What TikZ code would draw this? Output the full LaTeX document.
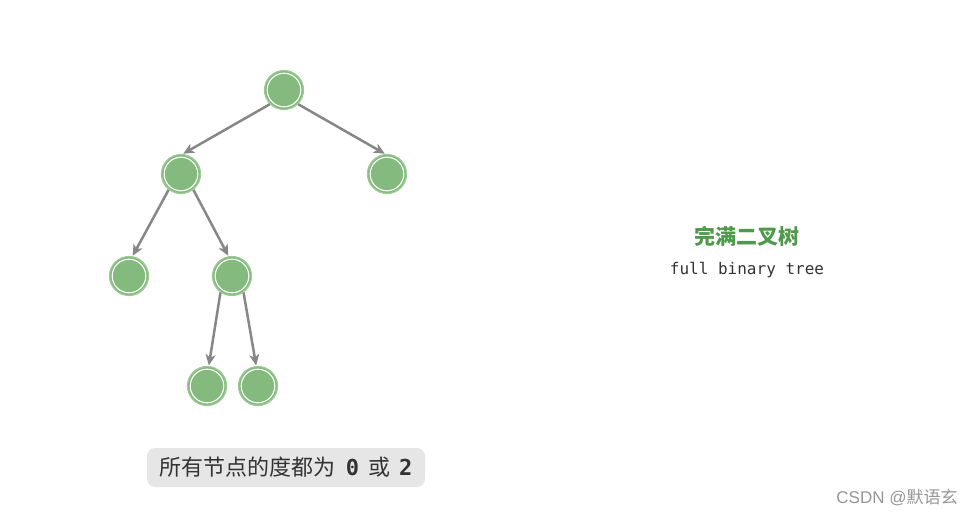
\documentclass[tikz,border=0pt]{standalone}
\usepackage{fontspec}
\setmainfont{Liberation Sans}
\newfontfamily\cjk{Noto Sans CJK SC}
\newfontfamily\monof{DejaVu Sans Mono}
\usetikzlibrary{arrows.meta}
\definecolor{nodefill}{HTML}{84BA7E}
\definecolor{noderim}{HTML}{9ACC93}
\definecolor{edgegray}{HTML}{878787}
\definecolor{titlegreen}{HTML}{4E9A4A}
\definecolor{boxgray}{HTML}{E6E6E6}
\begin{document}
\begin{tikzpicture}[x=1pt,y=-1pt,
  treenode/.style={circle,minimum size=39pt,inner sep=0pt,fill=nodefill,draw=noderim,line width=1.2pt,
    path picture={\draw[white,line width=1.1pt] (path picture bounding box.center) circle[radius=16.8pt];}},
  edge/.style={draw=edgegray,line width=2.5pt,-{Stealth[length=11pt,width=10pt,inset=3pt]},shorten >=0.5pt}]
\useasboundingbox (0,0) rectangle (975,515);
\node[treenode] (r) at (284,90) {};
\node[treenode] (a) at (181,174) {};
\node[treenode] (b) at (387,174) {};
\node[treenode] (c) at (129,276) {};
\node[treenode] (d) at (232,276) {};
\node[treenode] (e) at (207,386) {};
\node[treenode] (f) at (258,386) {};
\draw[edge] (r.-135) -- (a.85);
\draw[edge] (r.-45) -- (b.95);
\draw[edge] (a.-128) -- (c.80);
\draw[edge] (a.-52) -- (d.100);
\draw[edge] (d.-125) -- (e.85);
\draw[edge] (d.-55) -- (f.95);
\node[fill=boxgray,rounded corners=8pt,minimum width=278pt,minimum height=39pt,inner sep=0pt] (lbl) at (286,467.5)
  {\fontsize{22pt}{26pt}\selectfont\color[HTML]{333333}\cjk 所有节点的度都为\hspace{10pt}{\monof\bfseries 0}\hspace{9pt}或\hspace{9pt}{\monof\bfseries 2}};
\node[text=titlegreen] (title) at (747,236) {\fontsize{21pt}{24pt}\selectfont\cjk\bfseries 完满二叉树};
\node[text={rgb,255:red,51;green,51;blue,51}] (sub) at (747,270) {\fontsize{16pt}{19pt}\selectfont\monof full binary tree};
\node[text={rgb,255:red,150;green,150;blue,150}] (wm) at (897,497) {\fontsize{17pt}{20pt}\selectfont CSDN @{\cjk 默语玄}};
\end{tikzpicture}
\end{document}
